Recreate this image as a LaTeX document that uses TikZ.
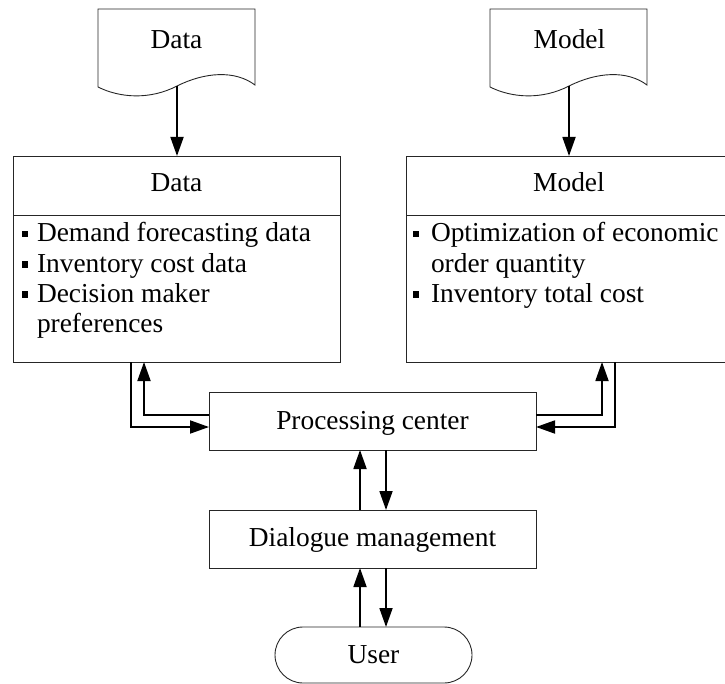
\documentclass[tikz,border=0pt]{standalone}
\usepackage{fontspec}
\setmainfont{Liberation Serif}
\usetikzlibrary{arrows.meta}
\newcommand{\sqbul}[1][16pt]{\makebox[#1][l]{\raisebox{4.5pt}{\rule{6pt}{6.5pt}}}}
\begin{document}
\begin{tikzpicture}[x=1pt,y=-1pt,
  font=\fontsize{27.4}{30.3}\selectfont,
  box/.style={draw=black!85, line width=0.9pt, inner sep=0pt, outer sep=0pt},
  conn/.style={line width=1.8pt, -{Triangle[length=19pt,width=13pt]}},
  lbl/.style={inner sep=0pt, outer sep=0pt, anchor=base},
  lst/.style={inner sep=0pt, outer sep=0pt, anchor=north west, align=left}]
\useasboundingbox (0,0) rectangle (725,684);

% document shapes
\draw[box] (98,9) -- (255,9) -- (255,85) .. controls (235,70) and (205,72) .. (177,86)
  .. controls (150,100) and (120,98) .. (98,87) -- cycle;
\coordinate (ddocb) at (177,86);
\node[lbl] (ddoctxt) at (176.5,49) {Data};
\begin{scope}[shift={(392,0)}]
\draw[box] (98,9) -- (255,9) -- (255,85) .. controls (235,70) and (205,72) .. (177,86)
  .. controls (150,100) and (120,98) .. (98,87) -- cycle;
\coordinate (mdocb) at (177,86);
\node[lbl] (mdoctxt) at (177.5,49) {Model};
\end{scope}

% data and model boxes
\node[box, minimum width=327pt, minimum height=206pt] (dbox) at (176.5,259) {};
\draw[box] (13,215) -- (340,215);
\node[lbl] (dtitle) at (176.5,191.7) {Data};
\node[lst] (dlist) at (22,222.5) {\sqbul[15pt]Demand forecasting data\\
  \sqbul[15pt]Inventory cost data\\
  \sqbul[15pt]Decision maker\\
  \hspace*{15pt}preferences};

\node[box, minimum width=326pt, minimum height=206pt] (mbox) at (569,259) {};
\draw[box] (406,215) -- (732,215);
\node[lbl] (mtitle) at (569,191.7) {Model};
\node[lst] (mlist) at (413,222.5) {\sqbul[18pt]Optimization of economic\\
  \hspace*{18pt}order quantity\\
  \sqbul[18pt]Inventory total cost};

% processing, dialogue, user
\node[box, minimum width=327pt, minimum height=58pt] (proc) at (372.5,421) {};
\node[lbl] (proctxt) at (372.5,429.3) {Processing center};
\node[box, minimum width=327pt, minimum height=58pt] (dial) at (372.5,539) {};
\node[lbl] (dialtxt) at (372.5,546.7) {Dialogue management};
\node[box, minimum width=197pt, minimum height=56pt, rounded corners=28pt] (user) at (373.5,655) {};
\node[lbl] (usertxt) at (373.5,663.3) {User};

% connectors
\draw[conn] (ddocb) -- (ddocb |- dbox.north);
\draw[conn] (mdocb) -- (mdocb |- mbox.north);

\draw[conn] ([xshift=-45.5pt]dbox.south) |- ([yshift=-6pt]proc.west);
\draw[conn] ([yshift=6pt]proc.west) -| ([xshift=-32.5pt]dbox.south);
\draw[conn] ([yshift=6pt]proc.east) -| ([xshift=33pt]mbox.south);
\draw[conn] ([xshift=46pt]mbox.south) |- ([yshift=-6pt]proc.east);

\draw[conn] ([xshift=-12.5pt]dial.north) -- ([xshift=-12.5pt]proc.south);
\draw[conn] ([xshift=13.5pt]proc.south) -- ([xshift=13.5pt]dial.north);
\draw[conn] ([xshift=-12.5pt]dial.south |- user.north) -- ([xshift=-12.5pt]dial.south);
\draw[conn] ([xshift=13.5pt]dial.south) -- ([xshift=13.5pt]dial.south |- user.north);
\end{tikzpicture}
\end{document}
